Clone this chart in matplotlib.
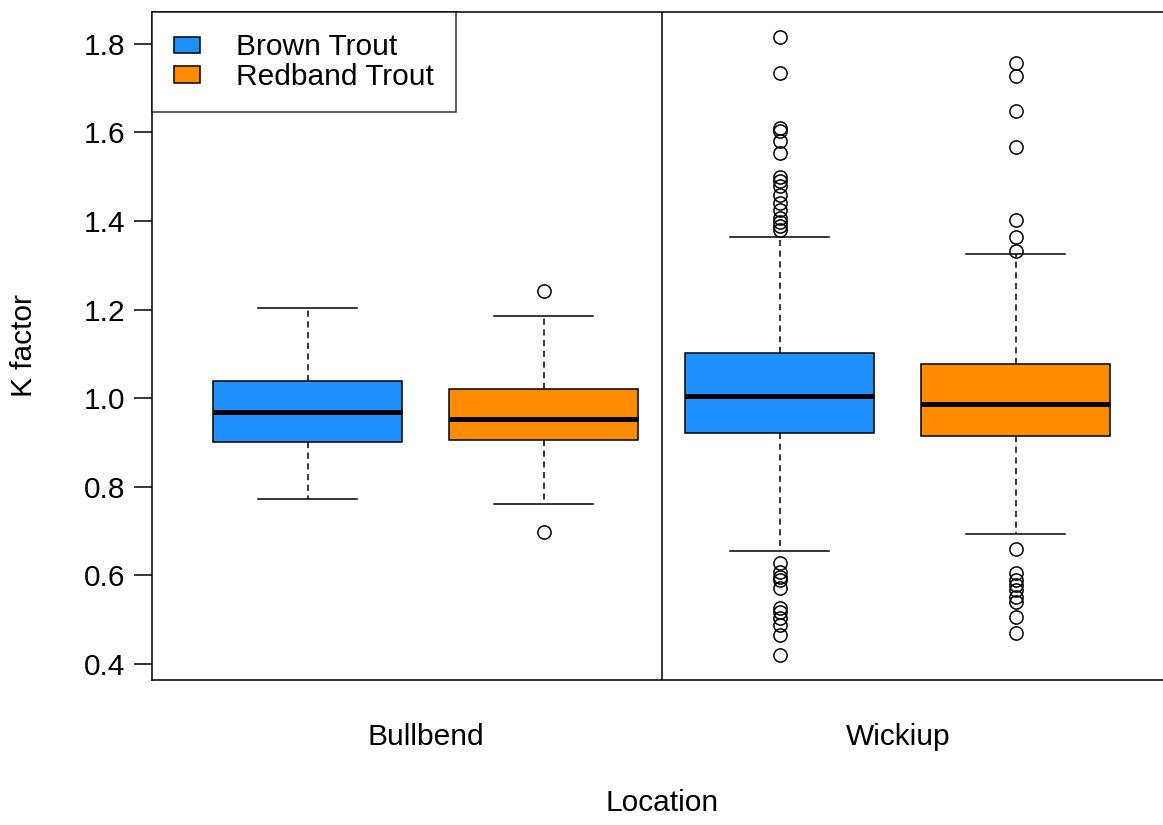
import matplotlib.pyplot as plt
from matplotlib.patches import Patch

plt.rcParams['font.family'] = ['Liberation Sans', 'DejaVu Sans']

# K factor summaries (Bullbend brown, Bullbend redband, Wickiup brown, Wickiup redband)
groups = ['Bullbend Brown', 'Bullbend Redband', 'Wickiup Brown', 'Wickiup Redband']
whislo = [0.773, 0.761, 0.655, 0.694]
q1 = [0.901, 0.906, 0.922, 0.915]
med = [0.969, 0.953, 1.005, 0.987]
q3 = [1.039, 1.021, 1.102, 1.077]
whishi = [1.204, 1.186, 1.364, 1.326]
fliers = [
    [],
    [1.242, 0.698],
    [1.816, 1.734, 1.610, 1.603, 1.581, 1.554, 1.500, 1.491, 1.479, 1.459,
     1.441, 1.425, 1.407, 1.398, 1.389, 1.380,
     0.628, 0.608, 0.596, 0.590, 0.572, 0.526, 0.517, 0.504, 0.488, 0.465, 0.420],
    [1.757, 1.728, 1.649, 1.567, 1.402, 1.364, 1.332,
     0.660, 0.605, 0.590, 0.578, 0.567, 0.551, 0.540, 0.506, 0.470],
]
colors = ['#1E90FF', '#FF8C00', '#1E90FF', '#FF8C00']
locations = ['Bullbend', 'Wickiup']
species = ['Brown Trout', 'Redband Trout']
yticks = [0.4, 0.6, 0.8, 1.0, 1.2, 1.4, 1.6, 1.8]

stats = []
for i in range(len(groups)):
    stats.append({'label': groups[i], 'whislo': whislo[i], 'q1': q1[i], 'med': med[i],
                  'q3': q3[i], 'whishi': whishi[i], 'fliers': fliers[i]})

fig = plt.figure(figsize=(11.63, 8.25), dpi=100)
ax = fig.add_axes([0.1307, 0.1758, 0.8766, 0.8097])

lw = 1.1
fs = 21.5
bp = ax.bxp(stats, positions=[1, 2, 3, 4], widths=0.8, capwidths=0.42, patch_artist=True,
            boxprops=dict(linewidth=lw, edgecolor='black'),
            medianprops=dict(color='black', linewidth=3.6, solid_capstyle='butt'),
            whiskerprops=dict(color='black', linewidth=lw, linestyle=(0, (4, 3))),
            capprops=dict(color='black', linewidth=lw),
            flierprops=dict(marker='o', markerfacecolor='none', markeredgecolor='black',
                            markersize=9.5, markeredgewidth=1.1))
for box, c in zip(bp['boxes'], colors):
    box.set_facecolor(c)

# divider between the two locations
ax.axvline(2.5, color='black', linewidth=lw)

ax.set_xlim(0.34, 4.66)
ax.set_ylim(0.364, 1.872)
ax.set_yticks(yticks)
ax.set_yticklabels([f'{v:.1f}' for v in yticks])
ax.set_xticks([1.5, 3.5])
ax.set_xticklabels(locations)
ax.tick_params(axis='x', length=0, pad=31, labelsize=fs)
ax.tick_params(axis='y', length=13, width=lw, pad=6, labelsize=fs)
for s in ax.spines.values():
    s.set_linewidth(lw)

ax.set_xlabel('Location', fontsize=fs, labelpad=27)
ax.set_ylabel('K factor', fontsize=fs, labelpad=33)

handles = [Patch(facecolor=colors[0], edgecolor='black', linewidth=lw),
           Patch(facecolor=colors[1], edgecolor='black', linewidth=lw)]
leg = ax.legend(handles, species, loc='upper left', bbox_to_anchor=(0, 1), fontsize=fs,
                frameon=True, fancybox=False, borderaxespad=0, handlelength=0.9,
                handleheight=0.48, handletextpad=1.2, labelspacing=0.05,
                borderpad=0.72)
leg.get_frame().set_edgecolor('black')
leg.get_frame().set_linewidth(lw)

fig.savefig('out.png', dpi=100)
